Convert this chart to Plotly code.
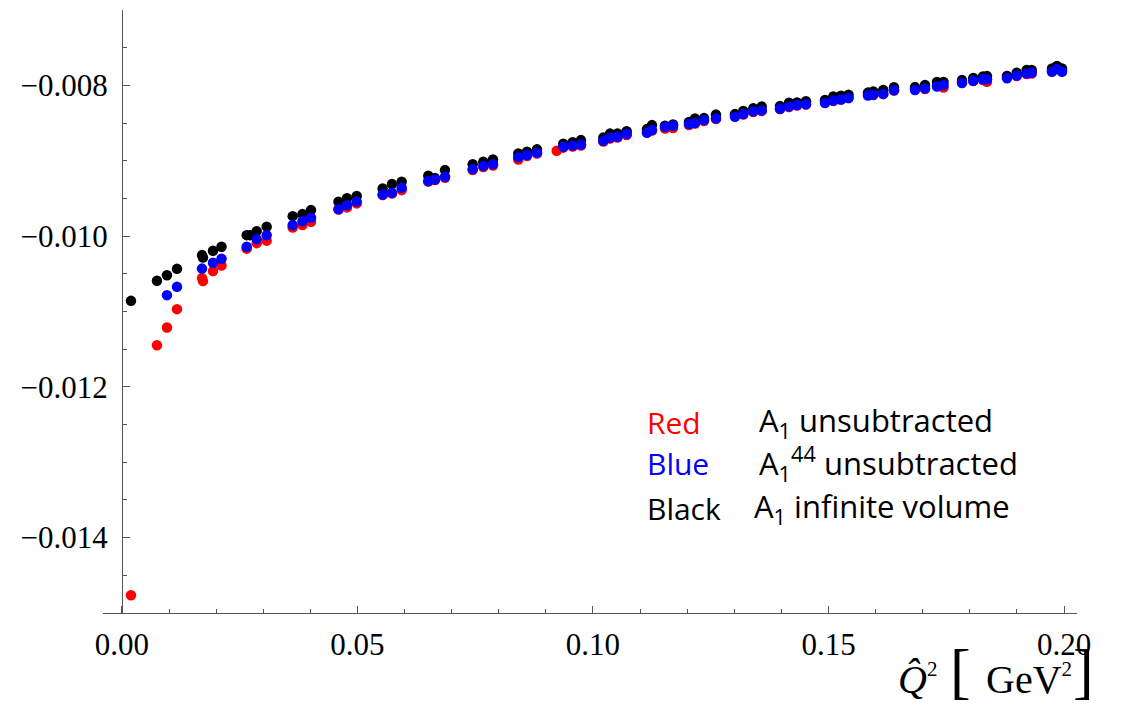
import plotly.graph_objects as go

# Q-hat^2 values [GeV^2] and amplitudes for each data set
red_q2 = [0.00191, 0.00743, 0.00955, 0.01168, 0.01699, 0.01720, 0.01932, 0.02113,
          0.02648, 0.02860, 0.03072, 0.03624, 0.03832, 0.04013, 0.04597, 0.04777,
          0.04983, 0.05535, 0.05732, 0.05938, 0.06503, 0.06645, 0.06858, 0.07446,
          0.07671, 0.07877, 0.08414, 0.08599, 0.08811, 0.09229, 0.09369, 0.09569,
          0.09745, 0.10219, 0.10361, 0.10520, 0.10715, 0.11146, 0.11253, 0.11529,
          0.11699, 0.12038, 0.12166, 0.12357, 0.12611, 0.13015, 0.13191, 0.13403,
          0.13582, 0.13970, 0.14161, 0.14331, 0.14522, 0.14926, 0.15102, 0.15265,
          0.15425, 0.15839, 0.15951, 0.16163, 0.16391, 0.16837, 0.17049, 0.17304,
          0.17442, 0.17834, 0.18074, 0.18280, 0.18365, 0.18790, 0.18996, 0.19208,
          0.19314, 0.19745, 0.19851, 0.19958]
red_a1 = [-0.014764, -0.011447, -0.011212, -0.010969, -0.010557, -0.010597, -0.010464, -0.010389,
          -0.010166, -0.010093, -0.010060, -0.009885, -0.009854, -0.009810, -0.009648, -0.009619,
          -0.009566, -0.009456, -0.009436, -0.009390, -0.009277, -0.009257, -0.009226, -0.009124,
          -0.009084, -0.009064, -0.008985, -0.008938, -0.008905, -0.008868, -0.008826, -0.008812,
          -0.008799, -0.008746, -0.008706, -0.008693, -0.008660, -0.008603, -0.008600, -0.008573,
          -0.008567, -0.008527, -0.008507, -0.008474, -0.008447, -0.008394, -0.008388, -0.008354,
          -0.008341, -0.008315, -0.008288, -0.008268, -0.008255, -0.008208, -0.008208, -0.008189,
          -0.008169, -0.008109, -0.008129, -0.008116, -0.008069, -0.008043, -0.008049, -0.008003,
          -0.008029, -0.007956, -0.007943, -0.007930, -0.007952, -0.007877, -0.007877, -0.007850,
          -0.007844, -0.007804, -0.007770, -0.007797]

blue_q2 = [0.00955, 0.01168, 0.01699, 0.01932, 0.02113, 0.02648, 0.02860, 0.03072,
           0.03624, 0.03832, 0.04013, 0.04597, 0.04777, 0.04983, 0.05535, 0.05732,
           0.05938, 0.06503, 0.06645, 0.06858, 0.07446, 0.07671, 0.07877, 0.08414,
           0.08599, 0.08811, 0.09369, 0.09569, 0.09745, 0.10219, 0.10361, 0.10520,
           0.10715, 0.11146, 0.11253, 0.11529, 0.11699, 0.12038, 0.12166, 0.12357,
           0.12611, 0.13015, 0.13191, 0.13403, 0.13582, 0.13970, 0.14161, 0.14331,
           0.14522, 0.14926, 0.15102, 0.15265, 0.15425, 0.15839, 0.15951, 0.16163,
           0.16391, 0.16837, 0.17049, 0.17304, 0.17442, 0.17834, 0.18074, 0.18280,
           0.18365, 0.18790, 0.18996, 0.19208, 0.19314, 0.19745, 0.19851, 0.19958]
blue_a1 = [-0.010783, -0.010673, -0.010431, -0.010354, -0.010301, -0.010142, -0.010040, -0.009987,
           -0.009854, -0.009801, -0.009757, -0.009642, -0.009589, -0.009542, -0.009447, -0.009425,
           -0.009359, -0.009270, -0.009248, -0.009213, -0.009111, -0.009071, -0.009045, -0.008952,
           -0.008925, -0.008895, -0.008815, -0.008799, -0.008786, -0.008735, -0.008696, -0.008682,
           -0.008646, -0.008629, -0.008593, -0.008550, -0.008536, -0.008514, -0.008500, -0.008461,
           -0.008438, -0.008417, -0.008381, -0.008345, -0.008332, -0.008311, -0.008279, -0.008262,
           -0.008251, -0.008235, -0.008202, -0.008189, -0.008169, -0.008135, -0.008122, -0.008113,
           -0.008066, -0.008062, -0.008040, -0.008016, -0.007996, -0.007970, -0.007939, -0.007920,
           -0.007920, -0.007907, -0.007870, -0.007844, -0.007834, -0.007820, -0.007784, -0.007820]

black_q2 = [0.00191, 0.00743, 0.00955, 0.01168, 0.01699, 0.01720, 0.01932, 0.02113,
            0.02648, 0.02718, 0.02860, 0.03072, 0.03624, 0.03832, 0.04013, 0.04597,
            0.04777, 0.04983, 0.05535, 0.05732, 0.05938, 0.06503, 0.06645, 0.06858,
            0.07446, 0.07671, 0.07877, 0.08414, 0.08599, 0.08811, 0.09369, 0.09569,
            0.09745, 0.10219, 0.10361, 0.10520, 0.10715, 0.11146, 0.11253, 0.11529,
            0.11699, 0.12038, 0.12166, 0.12357, 0.12611, 0.13015, 0.13191, 0.13403,
            0.13582, 0.13970, 0.14161, 0.14331, 0.14522, 0.14926, 0.15102, 0.15265,
            0.15425, 0.15839, 0.15951, 0.16163, 0.16391, 0.16837, 0.17049, 0.17304,
            0.17442, 0.17834, 0.18074, 0.18280, 0.18365, 0.18790, 0.18996, 0.19208,
            0.19314, 0.19745, 0.19851, 0.19958]
black_a1 = [-0.010859, -0.010593, -0.010518, -0.010434, -0.010252, -0.010285, -0.010195, -0.010142,
            -0.009987, -0.009987, -0.009934, -0.009874, -0.009735, -0.009708, -0.009655, -0.009545,
            -0.009496, -0.009467, -0.009367, -0.009310, -0.009279, -0.009200, -0.009230, -0.009124,
            -0.009045, -0.009014, -0.008982, -0.008903, -0.008880, -0.008849, -0.008775, -0.008753,
            -0.008726, -0.008693, -0.008640, -0.008637, -0.008607, -0.008580, -0.008527, -0.008534,
            -0.008520, -0.008487, -0.008438, -0.008434, -0.008388, -0.008381, -0.008341, -0.008305,
            -0.008279, -0.008275, -0.008231, -0.008228, -0.008211, -0.008195, -0.008147, -0.008138,
            -0.008124, -0.008096, -0.008080, -0.008062, -0.008025, -0.008023, -0.007996, -0.007956,
            -0.007954, -0.007930, -0.007903, -0.007881, -0.007877, -0.007877, -0.007833, -0.007797,
            -0.007797, -0.007777, -0.007744, -0.007777]

x_ticks = [0.0, 0.05, 0.10, 0.15, 0.20]
x_tick_labels = ["0.00", "0.05", "0.10", "0.15", "0.20"]
y_ticks = [-0.014, -0.012, -0.010, -0.008]
y_tick_labels = ["\u22120.014", "\u22120.012", "\u22120.010", "\u22120.008"]

legend_rows = [
    ("Red", "#ff0000", "A<sub>1</sub> unsubtracted"),
    ("Blue", "#0000ff", "A<sub>1</sub><sup>44</sup> unsubtracted"),
    ("Black", "#000000", "A<sub>1</sub> infinite volume"),
]

X_RANGE = [-0.00403, 0.20276]
Y_RANGE = [-0.015, -0.007]

AXIS_COLOR = "#555555"
SERIF = "Liberation Serif"
SANS = "Open Sans"

fig = go.Figure()
# red underneath, black next, blue drawn on top
for xs, ys, col in [(red_q2, red_a1, "#ff0000"),
                    (black_q2, black_a1, "#000000"),
                    (blue_q2, blue_a1, "#0000ff")]:
    fig.add_trace(go.Scatter(
        x=xs, y=ys, mode="markers",
        marker=dict(size=10.5, color=col, line=dict(width=0)),
        showlegend=False, hoverinfo="x+y",
    ))

# y axis sits at Q^2 = 0, inside the padded x range
y_axis_pos = (0 - X_RANGE[0]) / (X_RANGE[1] - X_RANGE[0])

fig.update_layout(
    width=1122, height=705, autosize=False,
    margin=dict(l=103, r=45, t=10, b=92),
    paper_bgcolor="white", plot_bgcolor="white",
    xaxis=dict(
        range=X_RANGE, showgrid=False, zeroline=False,
        showline=True, linecolor=AXIS_COLOR, linewidth=1,
        tickmode="array", tickvals=x_ticks, ticktext=x_tick_labels,
        ticks="inside", ticklen=7, tickwidth=1, tickcolor=AXIS_COLOR,
        minor=dict(dtick=0.01, tick0=0, ticks="inside", ticklen=4,
                   tickwidth=1, tickcolor=AXIS_COLOR),
        tickfont=dict(family=SERIF, size=31, color="black"),
        ticklabelstandoff=4,
    ),
    yaxis=dict(
        range=Y_RANGE, showgrid=False, zeroline=False,
        anchor="free", position=y_axis_pos,
        showline=True, linecolor=AXIS_COLOR, linewidth=1,
        tickmode="array", tickvals=y_ticks, ticktext=y_tick_labels,
        ticks="inside", ticklen=7, tickwidth=1, tickcolor=AXIS_COLOR,
        minor=dict(dtick=0.0005, tick0=-0.015, ticks="inside", ticklen=4,
                   tickwidth=1, tickcolor=AXIS_COLOR),
        tickfont=dict(family=SERIF, size=31, color="black"),
        ticklabelstandoff=8,
    ),
)

# colour key written as plain text rows
row_y = [0.3167, 0.2471, 0.1741]
name_x = [0.5565, 0.5565, 0.5565]
desc_x = [0.6715, 0.6715, 0.6663]
for (name, col, desc), yy, nx, dx in zip(legend_rows, row_y, name_x, desc_x):
    fig.add_annotation(x=nx, y=yy, xref="paper", yref="paper", text=name,
                       showarrow=False, xanchor="left", yanchor="middle",
                       font=dict(family=SANS, size=30, color=col))
    fig.add_annotation(x=dx, y=yy, xref="paper", yref="paper", text=desc,
                       showarrow=False, xanchor="left", yanchor="middle",
                       font=dict(family=SANS, size=31, color="black"))

# axis label in the lower right corner, pieced together so the
# tall brackets can be sized independently of the unit text
small2 = "<sup><span style='font-size:21px'>2</span></sup>"
title_parts = [
    ("<i>Q\u0302</i>" + small2, 0.8152, -0.1111, 40, "left"),
    ("[", 0.8799, -0.0960, 62, "center"),
    ("GeV" + small2, 0.9055, -0.1111, 40, "left"),
    ("]", 1.0062, -0.0960, 62, "center"),
]
for txt, px, py, fs, anchor in title_parts:
    fig.add_annotation(
        x=px, y=py, xref="paper", yref="paper", text=txt,
        showarrow=False, xanchor=anchor, yanchor="middle",
        borderpad=0, font=dict(family=SERIF, size=fs, color="black"),
    )

fig.write_html("out.html")
